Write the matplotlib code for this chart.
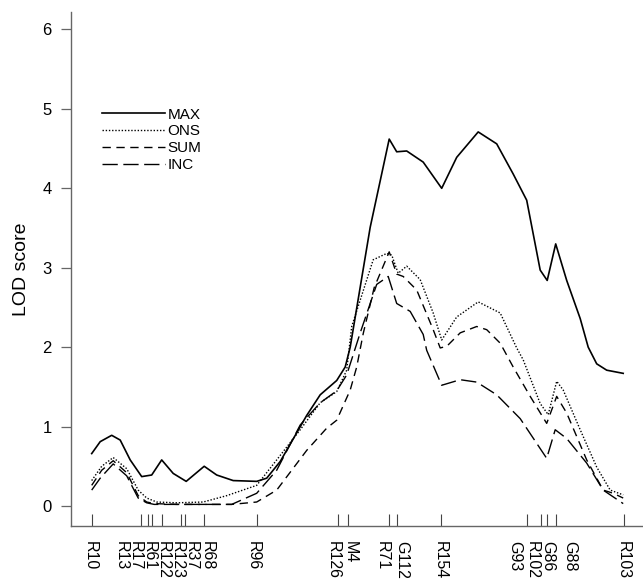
import matplotlib.pyplot as plt
import matplotlib.transforms as mtransforms

plt.rcParams['font.family'] = ['Liberation Sans', 'DejaVu Sans']

# marker map (cM) and labels
markers = ['R10', 'R13', 'R17', 'R61', 'R122', 'R123', 'R37', 'R68', 'R96',
           'R126', 'M4', 'R71', 'G112', 'R154', 'G93', 'R102', 'G86', 'G88', 'R103']
marker_pos = [0.0, 9.9, 11.3, 12.1, 14.1, 17.9, 18.7, 22.5, 33.0,
              49.3, 51.3, 59.5, 61.1, 69.9, 87.0, 89.9, 91.1, 92.9, 106.5]
# where the rotated labels sit (spread out so they don't overlap)
label_pos = [-0.3, 6.0, 8.8, 11.6, 14.4, 17.2, 20.0, 23.1, 32.3,
             48.3, 51.7, 58.1, 62.1, 69.7, 84.7, 88.1, 91.3, 95.7, 106.3]

# LOD curves
max_x = [0, 1.7, 4.0, 5.7, 7.7, 10.0, 12.0, 14.0, 16.3, 18.9, 22.5, 25.0, 28.3,
         33.0, 35.0, 37.7, 43.0, 45.7, 49.0, 50.7, 51.7, 55.7, 59.5, 61.0, 63.0,
         66.3, 70.0, 73.0, 77.3, 81.0, 84.3, 87.0, 89.7, 91.1, 92.8, 95.0, 97.7,
         99.3, 101.0, 103.0, 106.3]
max_y = [0.66, 0.81, 0.89, 0.83, 0.58, 0.37, 0.39, 0.58, 0.41, 0.31, 0.50, 0.39, 0.32,
         0.31, 0.35, 0.56, 1.14, 1.40, 1.58, 1.75, 2.00, 3.51, 4.62, 4.46, 4.47,
         4.33, 4.00, 4.39, 4.71, 4.56, 4.18, 3.85, 2.97, 2.84, 3.30, 2.84, 2.36,
         2.00, 1.79, 1.71, 1.67]

ons_x = [0, 2.0, 4.3, 7.0, 9.3, 11.0, 13.0, 17.0, 22.3, 27.0, 33.0, 37.0, 41.7,
         45.7, 49.0, 51.0, 52.0, 56.3, 59.0, 60.0, 61.3, 63.0, 65.7, 68.3, 70.0,
         73.0, 77.3, 81.7, 85.0, 86.3, 89.7, 91.3, 93.0, 94.3, 97.7, 101.0, 103.7, 106.3]
ons_y = [0.32, 0.50, 0.61, 0.47, 0.20, 0.10, 0.05, 0.04, 0.05, 0.13, 0.26, 0.58, 0.96,
         1.30, 1.44, 1.71, 2.26, 3.10, 3.18, 3.16, 2.93, 3.02, 2.85, 2.43, 2.09,
         2.38, 2.57, 2.43, 1.99, 1.84, 1.29, 1.15, 1.57, 1.46, 0.96, 0.49, 0.20, 0.14]

sum_x = [0, 2.0, 4.3, 7.0, 9.3, 11.0, 12.5, 17.0, 22.0, 28.0, 33.0, 37.0, 43.0,
         47.0, 49.0, 51.7, 53.0, 54.3, 56.5, 59.5, 61.0, 62.3, 65.0, 68.3, 69.7,
         71.0, 73.7, 77.0, 79.0, 81.7, 84.3, 87.7, 91.0, 93.0, 95.0, 99.0, 102.3,
         104.3, 106.3]
sum_y = [0.26, 0.45, 0.57, 0.42, 0.13, 0.05, 0.03, 0.02, 0.02, 0.02, 0.05, 0.20, 0.70,
         0.98, 1.08, 1.46, 1.75, 2.17, 2.75, 3.20, 2.92, 2.89, 2.72, 2.22, 1.99,
         2.01, 2.18, 2.26, 2.22, 2.05, 1.75, 1.38, 1.04, 1.38, 1.17, 0.58, 0.20,
         0.16, 0.10]

inc_x = [0, 1.7, 4.3, 7.0, 9.3, 11.0, 12.5, 17.0, 22.0, 28.0, 33.0, 37.0, 41.7,
         45.7, 49.0, 51.0, 53.7, 57.0, 59.3, 61.0, 63.7, 66.3, 67.0, 70.0, 73.7,
         77.0, 81.0, 85.7, 91.0, 92.7, 95.0, 99.0, 102.3, 106.3]
inc_y = [0.20, 0.35, 0.53, 0.38, 0.10, 0.04, 0.02, 0.02, 0.02, 0.02, 0.16, 0.45, 1.02,
         1.30, 1.45, 1.65, 2.18, 2.79, 2.89, 2.55, 2.45, 2.16, 1.96, 1.52, 1.59,
         1.56, 1.40, 1.10, 0.60, 0.96, 0.85, 0.54, 0.20, 0.03]

fig = plt.figure(figsize=(6.43, 5.82), dpi=100)
ax = fig.add_axes([71 / 643, 56 / 582, 572 / 643, 514 / 582])

ax.plot(max_x, max_y, color='black', lw=1.2, ls='-', label='MAX')
ax.plot(ons_x, ons_y, color='black', lw=1.0, ls=(0, (1, 1.3)), label='ONS')
ax.plot(sum_x, sum_y, color='black', lw=1.0, ls=(0, (6, 4)), label='SUM')
ax.plot(inc_x, inc_y, color='black', lw=1.0, ls=(0, (11, 4)), label='INC')

ax.set_xlim(-4.14, 110.26)
ax.set_ylim(-0.252, 6.22)

ax.spines['top'].set_visible(False)
ax.spines['right'].set_visible(False)
for s in ['left', 'bottom']:
    ax.spines[s].set_color('#666666')
    ax.spines[s].set_linewidth(1.0)

ax.set_yticks(range(7))
ax.tick_params(axis='y', direction='out', length=7, width=0.9, color='#666666',
               pad=7, labelsize=12)
ax.set_ylabel('LOD score', fontsize=14, labelpad=9)

ax.set_xticks(marker_pos)
ax.set_xticklabels([''] * len(marker_pos))
ax.tick_params(axis='x', direction='in', length=9, width=0.8, color='#444444')

trans = mtransforms.blended_transform_factory(ax.transData, ax.transAxes)
for name, xp in zip(markers, label_pos):
    ax.text(xp, -0.03, name, transform=trans, rotation=270, ha='center', va='top',
            fontsize=11.5)

leg = ax.legend(loc='upper left', bbox_to_anchor=(0.054, 0.814), frameon=False,
                handlelength=4.1, handletextpad=0.2, labelspacing=0.18,
                borderpad=0, borderaxespad=0, fontsize=11)

fig.savefig('out.png', dpi=100)
